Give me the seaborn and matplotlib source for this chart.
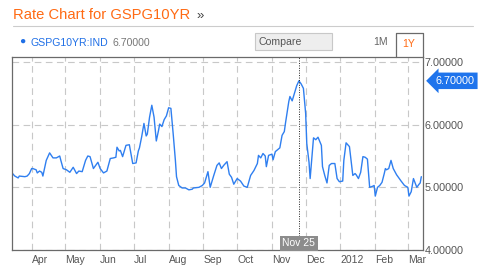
import matplotlib
matplotlib.use("Agg")
import matplotlib.pyplot as plt
import matplotlib.dates as mdates
from matplotlib.patches import Rectangle
from matplotlib.lines import Line2D
import matplotlib.transforms as mtransforms
import pandas as pd
import seaborn as sns

# ---- data ----
dates = [
    "2011-03-15", "2011-03-17", "2011-03-20", "2011-03-21", "2011-03-26", "2011-03-28", "2011-03-30",
    "2011-04-01", "2011-04-02", "2011-04-05", "2011-04-06", "2011-04-08", "2011-04-10", "2011-04-11",
    "2011-04-14", "2011-04-17", "2011-04-20", "2011-04-23", "2011-04-26", "2011-04-27", "2011-04-29",
    "2011-05-02", "2011-05-05", "2011-05-08", "2011-05-11", "2011-05-13", "2011-05-16", "2011-05-19",
    "2011-05-21", "2011-05-23", "2011-05-26", "2011-05-28", "2011-05-30",
    "2011-06-01", "2011-06-04", "2011-06-07", "2011-06-10", "2011-06-13", "2011-06-15", "2011-06-16",
    "2011-06-18", "2011-06-19", "2011-06-21", "2011-06-24", "2011-06-27", "2011-06-28", "2011-06-30",
    "2011-07-03", "2011-07-05", "2011-07-06", "2011-07-08", "2011-07-10", "2011-07-12", "2011-07-13",
    "2011-07-15", "2011-07-17", "2011-07-19", "2011-07-21", "2011-07-23", "2011-07-24", "2011-07-26",
    "2011-07-28", "2011-07-30",
    "2011-08-01", "2011-08-03", "2011-08-05", "2011-08-07", "2011-08-08", "2011-08-10", "2011-08-13",
    "2011-08-16", "2011-08-19", "2011-08-22", "2011-08-23", "2011-08-28", "2011-08-31",
    "2011-09-02", "2011-09-05", "2011-09-07", "2011-09-10", "2011-09-13", "2011-09-15", "2011-09-17",
    "2011-09-19", "2011-09-22", "2011-09-24", "2011-09-26", "2011-09-28",
    "2011-10-01", "2011-10-04", "2011-10-07", "2011-10-10", "2011-10-13", "2011-10-16", "2011-10-19",
    "2011-10-20", "2011-10-22", "2011-10-24", "2011-10-26", "2011-10-27", "2011-10-29",
    "2011-11-01", "2011-11-02", "2011-11-04", "2011-11-08", "2011-11-10", "2011-11-12", "2011-11-13",
    "2011-11-16", "2011-11-17", "2011-11-19", "2011-11-21", "2011-11-23", "2011-11-25", "2011-11-27",
    "2011-11-29",
    "2011-12-01", "2011-12-02", "2011-12-04", "2011-12-05", "2011-12-08", "2011-12-10", "2011-12-12",
    "2011-12-15", "2011-12-16", "2011-12-18", "2011-12-20", "2011-12-22", "2011-12-24", "2011-12-27",
    "2011-12-29", "2011-12-31",
    "2012-01-03", "2012-01-04", "2012-01-06", "2012-01-09", "2012-01-10", "2012-01-12", "2012-01-14",
    "2012-01-15", "2012-01-17", "2012-01-19", "2012-01-21", "2012-01-23", "2012-01-25", "2012-01-27",
    "2012-01-30", "2012-01-31",
    "2012-02-01", "2012-02-03", "2012-02-05", "2012-02-07", "2012-02-09", "2012-02-10", "2012-02-11",
    "2012-02-13", "2012-02-15", "2012-02-17", "2012-02-20", "2012-02-24", "2012-02-27", "2012-02-28",
    "2012-03-01", "2012-03-02", "2012-03-04", "2012-03-06", "2012-03-09", "2012-03-11", "2012-03-12",
    "2012-03-13",
]
rates = [
    5.22, 5.18, 5.15, 5.18, 5.17, 5.18, 5.22,
    5.30, 5.30, 5.28, 5.23, 5.26, 5.24, 5.18,
    5.43, 5.55, 5.47, 5.47, 5.50, 5.43, 5.30,
    5.28, 5.24, 5.32, 5.22, 5.26, 5.25, 5.43,
    5.50, 5.49, 5.30, 5.35, 5.40,
    5.30, 5.23, 5.26, 5.46, 5.47, 5.48, 5.64,
    5.58, 5.59, 5.49, 5.67, 5.68, 5.58, 5.38,
    5.39, 5.58, 5.63, 5.81, 6.02, 5.82, 5.85,
    6.12, 6.31, 6.12, 5.74, 5.91, 6.01, 5.97,
    6.08, 6.14,
    6.27, 6.26, 5.86, 5.43, 5.17, 5.03, 4.99,
    4.99, 4.96, 4.97, 4.99, 5.00, 5.03,
    5.07, 5.25, 5.00, 5.18, 5.35, 5.39, 5.30,
    5.35, 5.41, 5.21, 5.16, 5.05,
    5.14, 5.10, 5.02, 5.00, 5.19, 5.27, 5.38,
    5.51, 5.47, 5.54, 5.50, 5.33, 5.51,
    5.53, 5.44, 5.57, 5.63, 5.83, 5.89, 6.02,
    6.37, 6.45, 6.38, 6.50, 6.62, 6.70, 6.65,
    6.58,
    6.18, 5.70, 5.40, 5.14, 5.79, 5.76, 5.80,
    5.67, 5.33, 5.19, 5.07, 5.35, 5.38, 5.38,
    5.14, 5.09,
    5.10, 5.43, 5.71, 5.65, 5.50, 5.19, 5.22,
    5.20, 5.14, 5.24, 5.49, 5.48, 5.45, 5.00,
    5.02, 5.03,
    4.86, 5.00, 5.03, 5.08, 5.22, 5.30, 5.28,
    5.30, 5.43, 5.30, 5.20, 5.10, 5.03, 5.02,
    5.00, 4.86, 4.93, 5.14, 5.00, 5.05, 5.07,
    5.17,
]
month_ticks = ["2011-04-01", "2011-05-01", "2011-06-01", "2011-07-01", "2011-08-01", "2011-09-01",
               "2011-10-01", "2011-11-01", "2011-12-01", "2012-01-01", "2012-02-01", "2012-03-01"]
month_labels = ["Apr", "May", "Jun", "Jul", "Aug", "Sep", "Oct", "Nov", "Dec", "2012", "Feb", "Mar"]
y_ticks = [4.0, 5.0, 6.0, 7.0]
hover_date = "2011-11-25"
hover_label = "Nov 25"
last_value = 6.70
title = "Rate Chart for GSPG10YR"
series_name = "GSPG10YR:IND"

df = pd.DataFrame({"date": pd.to_datetime(dates), "rate": rates})

sns.set_style("white")
plt.rcParams["font.family"] = ["Liberation Sans", "DejaVu Sans"]

W, H = 486, 267
fig = plt.figure(figsize=(W / 100, H / 100), dpi=100)
ax = fig.add_axes([12 / W, 1 - 250 / H, (423 - 12) / W, (250 - 57) / H])

LINE = "#2f7ff0"
GRID = "#c8c8c8"
TXT = "#555555"

sns.lineplot(data=df, x="date", y="rate", ax=ax, color=LINE, linewidth=1.0)

ax.set_xlim(pd.Timestamp("2011-03-14 12:00"), pd.Timestamp("2012-03-14 12:00"))
ax.set_ylim(4.0, 7.08)

mt = pd.to_datetime(month_ticks)
ax.set_xticks(mt)
ax.set_xticklabels(month_labels, ha="left", color=TXT, fontsize=7.5)
offset = mtransforms.ScaledTranslation(1.5 / 100, 0, fig.dpi_scale_trans)
for lab in ax.get_xticklabels():
    lab.set_transform(lab.get_transform() + offset)
ax.tick_params(axis="x", length=0, pad=3.5)

ax.yaxis.tick_right()
ax.set_yticks(y_ticks)
ax.set_yticklabels([f"{v:.5f}" for v in y_ticks], color=TXT, fontsize=7.8)
ax.tick_params(axis="y", length=0, pad=1)

ax.grid(True, color=GRID, linestyle=(0, (6, 4)), linewidth=0.8)
ax.set_xlabel("")
ax.set_ylabel("")
for s in ax.spines.values():
    s.set_color("#6a6a6a")
    s.set_linewidth(0.9)

# hover line and label
hd = pd.Timestamp(hover_date)
ax.axvline(hd, ymin=0.07, ymax=1, color="#222222", linestyle=(0, (1, 1.5)), linewidth=0.7)
ax.text(hd, 0.035, hover_label, transform=ax.get_xaxis_transform(), ha="center", va="center",
        color="white", fontsize=7.5,
        bbox=dict(boxstyle="square,pad=0.25", fc="#8c8c8c", ec="none"))

# last value tag
ax.text(1.03, last_value, f"{last_value:.5f}", transform=ax.get_yaxis_transform(),
        ha="left", va="center", color="white", fontsize=7.8, clip_on=False,
        bbox=dict(boxstyle="larrow,pad=0.3", fc="#1f74ec", ec="none"))

# header
def fx(x):
    return x / W

def fy(y):
    return 1 - y / H

fig.text(fx(13), fy(15), title, color="#ff6a13", fontsize=10.6, va="center", ha="left")
fig.text(fx(196), fy(16), "»", color="#444444", fontsize=9.5, va="center", ha="left")
fig.add_artist(Line2D([fx(13), fx(473)], [fy(26), fy(26)], color="#cccccc", linewidth=0.8))

fig.text(fx(22), fy(41), "●", color="#1f6fe6", fontsize=7.5, va="center", ha="center")
fig.text(fx(30), fy(42.5), series_name, color="#1f6fe6", fontsize=7.6, va="center", ha="left")
fig.text(fx(112), fy(42.5), f"{last_value:.5f}", color="#777777", fontsize=7.6, va="center", ha="left")

fig.add_artist(Rectangle((fx(255), fy(50)), (332 - 255) / W, 17 / H, transform=fig.transFigure,
                         fc="#eeeeee", ec="#c8c8c8", linewidth=0.8))
fig.text(fx(258), fy(42), "Compare", color="#555555", fontsize=7.6, va="center", ha="left")

fig.text(fx(373), fy(42), "1M", color="#666666", fontsize=7.6, va="center", ha="left")
fig.add_artist(Line2D([fx(395.5), fx(395.5), fx(423), fx(423)], [fy(57), fy(32.5), fy(32.5), fy(57)],
                      color="#6a6a6a", linewidth=0.9))
fig.text(fx(402), fy(44), "1Y", color="#ff6a13", fontsize=7.6, va="center", ha="left")

fig.savefig("out.png", dpi=100)
